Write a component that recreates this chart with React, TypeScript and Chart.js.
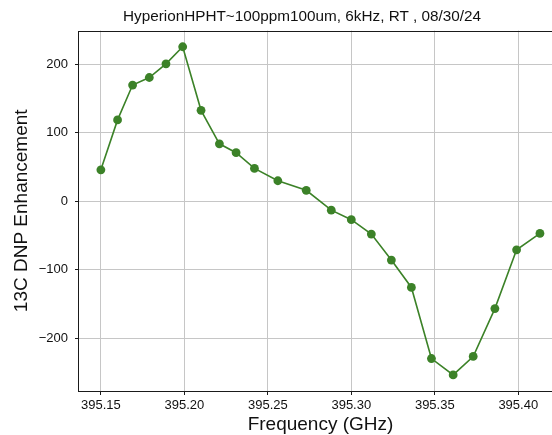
import React, { useEffect, useRef } from "react";
import { Chart, registerables } from "chart.js";

Chart.register(...registerables);

const TITLE = "HyperionHPHT~100ppm100um, 6kHz, RT , 08/30/24";
const X_LABEL = "Frequency (GHz)";
const Y_LABEL = "13C DNP Enhancement";

const FREQ_GHZ = [
  395.15, 395.16, 395.169, 395.179, 395.189, 395.199, 395.21, 395.221,
  395.231, 395.242, 395.256, 395.273, 395.288, 395.3, 395.312, 395.324,
  395.336, 395.348, 395.361, 395.373, 395.386, 395.399, 395.413,
];
const ENHANCEMENT = [
  46, 119, 170, 181, 201, 226, 133, 84, 71, 48, 30, 16, -13, -27, -48, -86,
  -126, -230, -254, -227, -157, -71, -47,
];
const X_TICKS = [395.15, 395.2, 395.25, 395.3, 395.35, 395.4];
const Y_TICKS = [-200, -100, 0, 100, 200];
const X_MIN = 395.1369;
const X_MAX = 395.4262;
const Y_MIN = -277.5;
const Y_MAX = 249.6;

const GREEN = "#3c8228";
const FONT = "'Liberation Sans', Arial, sans-serif";

const framePlugin = {
  id: "frame",
  afterDraw(chart: any) {
    const { ctx, chartArea } = chart;
    ctx.save();
    ctx.strokeStyle = "#1a1a1a";
    ctx.lineWidth = 1;
    ctx.strokeRect(
      Math.round(chartArea.left) - 0.5,
      Math.round(chartArea.top) + 0.5,
      Math.round(chartArea.right - chartArea.left),
      Math.round(chartArea.bottom - chartArea.top)
    );
    ctx.restore();
  },
};

const titlePlugin = {
  id: "figTitle",
  afterDraw(chart: any) {
    const { ctx } = chart;
    ctx.save();
    ctx.fillStyle = "#111";
    ctx.font = `normal 15.3px ${FONT}`;
    ctx.textAlign = "center";
    ctx.textBaseline = "middle";
    ctx.fillText(TITLE, 302, 16.5);
    ctx.restore();
  },
};

export default function App() {
  const ref = useRef<HTMLCanvasElement | null>(null);
  useEffect(() => {
    if (!ref.current) return;
    const chart = new Chart(ref.current, {
      type: "line",
      data: {
        datasets: [
          {
            data: FREQ_GHZ.map((f, i) => ({ x: f, y: ENHANCEMENT[i] })),
            borderColor: GREEN,
            backgroundColor: GREEN,
            borderWidth: 1.6,
            pointRadius: 4.4,
            pointBorderWidth: 0,
            pointBackgroundColor: GREEN,
            tension: 0,
          },
        ],
      },
      plugins: [framePlugin, titlePlugin],
      options: {
        animation: false,
        responsive: false,
        devicePixelRatio: 1,
        layout: { padding: { left: 0, right: 42, top: 30.6, bottom: 0 } },
        plugins: {
          legend: { display: false },
          tooltip: { enabled: false },
          title: { display: false },
        },
        scales: {
          x: {
            type: "linear",
            min: X_MIN,
            max: X_MAX,
            afterBuildTicks: (s: any) => {
              s.ticks = X_TICKS.map((v) => ({ value: v }));
            },
            afterFit: (s: any) => {
              s.height = 49;
            },
            ticks: {
              color: "#111",
              font: { family: FONT, size: 13 },
              padding: 3,
              maxRotation: 0,
              autoSkip: false,
              callback: (v: any) => Number(v).toFixed(2),
            },
            grid: {
              color: "#c6c6c6",
              lineWidth: 1,
              tickLength: 4,
              tickColor: "#1a1a1a",
            },
            border: { display: false },
            title: {
              display: true,
              text: X_LABEL,
              color: "#111",
              font: { family: FONT, size: 19 },
              padding: { top: 0, bottom: 3.6 },
            },
          },
          y: {
            type: "linear",
            min: Y_MIN,
            max: Y_MAX,
            afterBuildTicks: (s: any) => {
              s.ticks = Y_TICKS.map((v) => ({ value: v }));
            },
            afterFit: (s: any) => {
              s.width = 79;
            },
            ticks: {
              color: "#111",
              font: { family: FONT, size: 13 },
              padding: 7,
              autoSkip: false,
              callback: (v: any) => String(v).replace("-", "\u2212"),
            },
            grid: {
              color: "#c6c6c6",
              lineWidth: 1,
              tickLength: 4,
              tickColor: "#1a1a1a",
            },
            border: { display: false },
            title: {
              display: true,
              text: Y_LABEL,
              color: "#111",
              font: { family: FONT, size: 19 },
              padding: { top: 10, bottom: 0 },
            },
          },
        },
      },
    } as any);
    return () => chart.destroy();
  }, []);

  return (
    <div
      style={{
        position: "fixed",
        left: 0,
        top: 0,
        width: 552,
        height: 435,
        overflow: "hidden",
        background: "#fff",
      }}
    >
      <canvas ref={ref} width={604} height={440} style={{ display: "block" }} />
    </div>
  );
}
